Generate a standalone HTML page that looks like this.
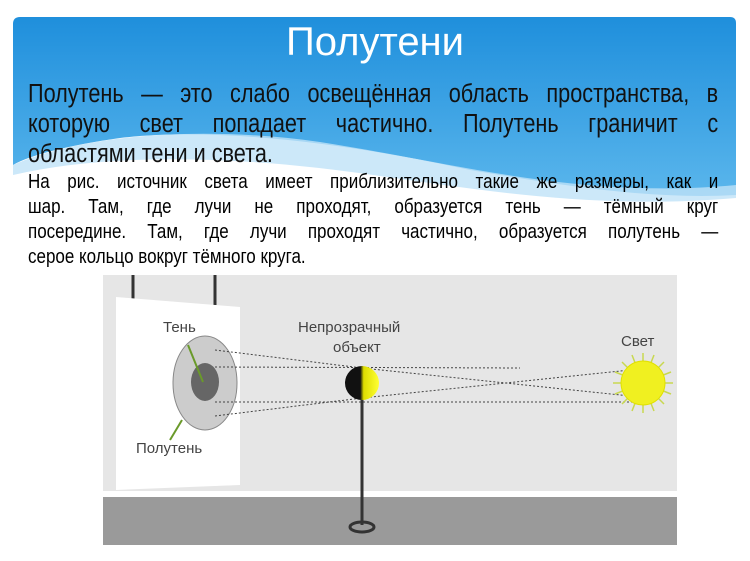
<!DOCTYPE html>
<html><head><meta charset="utf-8"><style>
body{margin:0;width:750px;height:561px;background:#fff;overflow:hidden;position:relative;font-family:"Liberation Sans","Noto Sans CJK SC",sans-serif}
.t{position:absolute;left:0;width:750px;text-align:center;top:20px;font-size:40px;color:#fff}
.l{position:absolute;left:28px;width:812px;text-align:justify;text-align-last:justify;white-space:nowrap;transform:scaleX(0.85);transform-origin:0 0}
.p{font-size:25.5px;color:#111;line-height:30px}
.s{font-size:20px;color:#000;line-height:25px}
</style></head><body>
<svg width="750" height="561" style="position:absolute;left:0;top:0">
<defs>
<linearGradient id="g" x1="0" y1="0" x2="0" y2="1"><stop offset="0" stop-color="#1f8fdc"/><stop offset="1" stop-color="#5ab6ec"/></linearGradient>
</defs>
<path d="M20,17 H730 Q736,17 736,23 V195 C650,200 560,185 470,170 C380,150 230,125 120,138 C70,145 30,155 13,165 V24 Q13,17 20,17Z" fill="url(#g)"/>
<path d="M13,165 C80,135 200,125 320,142 C450,162 580,200 736,185 V198 C600,210 480,190 380,176 C260,158 120,150 13,175Z" fill="#bfe2f7" opacity="0.8"/>
<rect x="103" y="275" width="574" height="216" fill="#e6e6e6"/>
<rect x="103" y="497" width="574" height="48" fill="#9a9a9a"/>
<line x1="133" y1="275" x2="133" y2="300" stroke="#333" stroke-width="3"/>
<line x1="215" y1="275" x2="215" y2="305" stroke="#333" stroke-width="3"/>
<polygon points="116,297 240,307 240,485 116,490" fill="#fff"/>
<ellipse cx="205" cy="383" rx="32" ry="47" fill="#ccc" stroke="#888"/>
<ellipse cx="205" cy="382" rx="14" ry="19" fill="#666"/>
<line x1="188" y1="345" x2="203" y2="382" stroke="#6a9a2a" stroke-width="2"/>
<line x1="182" y1="420" x2="170" y2="440" stroke="#6a9a2a" stroke-width="2"/>
<g stroke="#444" stroke-width="1" stroke-dasharray="2,2" fill="none">
<line x1="215" y1="350" x2="362" y2="368"/><line x1="215" y1="367" x2="520" y2="368"/>
<line x1="215" y1="402" x2="640" y2="402"/><line x1="215" y1="416" x2="362" y2="398"/>
<line x1="362" y1="368" x2="630" y2="396"/><line x1="362" y1="398" x2="630" y2="370"/>
</g>
<line x1="362" y1="383" x2="362" y2="525" stroke="#333" stroke-width="3"/>
<ellipse cx="362" cy="527" rx="12" ry="5" fill="none" stroke="#333" stroke-width="3"/>
<defs><linearGradient id="b"><stop offset="0.45" stop-color="#111"/><stop offset="0.55" stop-color="#dd0"/><stop offset="1" stop-color="#ff3"/></linearGradient></defs>
<circle cx="362" cy="383" r="17" fill="url(#b)"/>
<g stroke="#c8d850" stroke-width="1.5">
<line x1="613" y1="383" x2="673" y2="383"/><line x1="643" y1="353" x2="643" y2="413"/>
<line x1="622" y1="362" x2="664" y2="404"/><line x1="622" y1="404" x2="664" y2="362"/>
<line x1="615" y1="372" x2="671" y2="394"/><line x1="615" y1="394" x2="671" y2="372"/>
<line x1="632" y1="355" x2="654" y2="411"/><line x1="654" y1="355" x2="632" y2="411"/>
</g>
<circle cx="643" cy="383" r="22" fill="#f0f020" stroke="#e0e000"/>
<g font-family="Liberation Sans,sans-serif" font-size="15" fill="#444">
<text x="163" y="332">Тень</text>
<text x="136" y="453">Полутень</text>
<text x="298" y="332">Непрозрачный</text>
<text x="333" y="352">объект</text>
<text x="621" y="346">Свет</text>
</g>
</svg>
<div class="t">Полутени</div>
<div class="l p" style="top:79px">Полутень — это слабо освещённая область пространства, в</div>
<div class="l p" style="top:109px">которую свет попадает частично. Полутень граничит с</div>
<div class="l p" style="top:139px;text-align-last:left">областями тени и света.</div>
<div class="l s" style="top:170px">На рис. источник света имеет приблизительно такие же размеры, как и</div>
<div class="l s" style="top:195px">шар. Там, где лучи не проходят, образуется тень — тёмный круг</div>
<div class="l s" style="top:220px">посередине. Там, где лучи проходят частично, образуется полутень —</div>
<div class="l s" style="top:245px;text-align-last:left">серое кольцо вокруг тёмного круга.</div>
</body></html>
